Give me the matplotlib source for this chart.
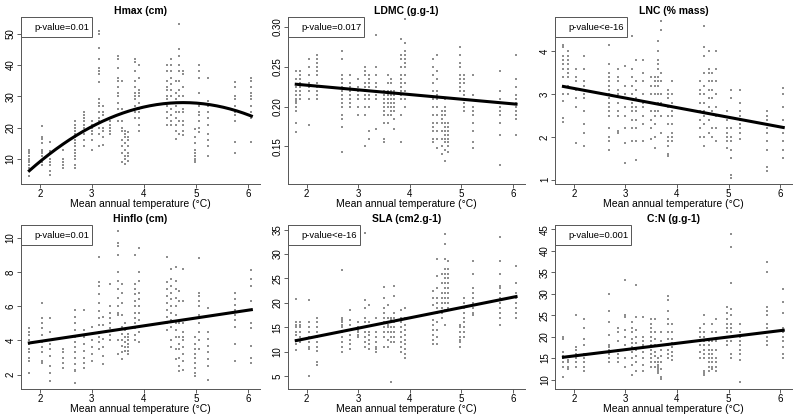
import matplotlib
matplotlib.use("Agg")
import matplotlib.pyplot as plt
import numpy as np
from matplotlib.transforms import offset_copy

plt.rcParams['font.family'] = ['Liberation Sans', 'DejaVu Sans']

# mean annual temperature of each site (deg C)
temp = [1.80, 1.88, 2.05, 2.20, 2.45, 2.68, 2.85, 3.00, 3.13, 3.21, 3.35, 3.50, 3.57,
        3.63, 3.70, 3.83, 3.90, 4.45, 4.52, 4.62, 4.68, 4.75, 4.97, 5.05, 5.22, 5.74, 6.06]

hmax = [
    [4.5, 7, 8, 9, 9.5, 10, 11, 12, 12.5, 13],
    [],
    [8, 9, 11, 12, 12.5, 13, 15, 16.5, 17, 20.5],
    [5, 6, 8, 9, 10, 12, 12.5, 15.5],
    [7, 8, 9, 10, 13],
    [7, 8, 10, 11, 12, 13, 14, 15, 16, 17, 18, 19, 20, 21, 22],
    [14, 16, 18, 19, 20, 21, 22, 23, 24, 25],
    [13, 16, 18, 19, 20, 21, 22],
    [14, 18, 20, 22, 23, 25, 27, 28, 29, 34.5, 37, 38, 39, 42, 45.5, 50, 51],
    [14.5, 17, 19, 20, 22, 24, 25, 27],
    [18, 19, 20, 21, 22, 23],
    [22, 24, 26, 28, 30, 31, 33, 35, 36, 39, 42, 43],
    [9, 12, 14, 16, 19, 20, 22, 26, 35],
    [8.5, 10, 11, 13, 15, 17, 18, 19],
    [9.5, 11, 12, 14, 16, 17, 18.5],
    [23, 25, 27, 29, 30, 31, 33, 35, 38, 41, 42],
    [19, 21, 23, 25, 26, 28, 30, 31, 32, 36, 40],
    [21, 23, 25, 27, 29, 30, 32, 33, 35, 38, 40],
    [21, 22, 24, 26, 28, 30, 32, 34, 36, 38, 40, 42],
    [16.5, 19, 21, 23, 25, 27, 29, 31, 35],
    [18, 22, 25, 28, 30, 32, 35, 38, 40, 43, 45, 53],
    [17.5, 19, 21, 22, 25, 26, 28, 30, 33, 37, 38],
    [9, 9.5, 10, 11, 12, 13, 15, 17, 19.5],
    [18.5, 20, 22, 24, 25, 27, 31, 36, 38, 40],
    [11, 14, 16, 18, 21, 23, 25, 27, 28.5, 36],
    [12, 15.5, 22, 24, 25, 27, 29, 30, 33, 34.5],
    [15.5, 23, 25, 27, 29, 30, 31, 33, 35, 36],
]

ldmc = [
    [0.168, 0.18, 0.195, 0.20, 0.205, 0.207, 0.21, 0.215, 0.22, 0.224, 0.228, 0.235, 0.245],
    [0.21, 0.215, 0.22, 0.225, 0.23, 0.235, 0.24, 0.245],
    [0.177, 0.21, 0.22, 0.225, 0.23, 0.24, 0.25, 0.26],
    [0.21, 0.215, 0.22, 0.225, 0.23, 0.24, 0.245, 0.25, 0.255, 0.26, 0.265, 0.29],
    [],
    [0.143, 0.175, 0.185, 0.19, 0.20, 0.205, 0.21, 0.215, 0.22, 0.225, 0.23, 0.235, 0.24, 0.26, 0.27, 0.287],
    [0.20, 0.205, 0.21, 0.215, 0.22, 0.225, 0.23, 0.24],
    [0.19, 0.20, 0.21, 0.215, 0.22, 0.225, 0.235],
    [0.15, 0.19, 0.20, 0.21, 0.215, 0.22, 0.225, 0.23, 0.24, 0.245, 0.25],
    [0.16, 0.17, 0.20, 0.21, 0.215, 0.22, 0.225, 0.23, 0.235, 0.24],
    [0.172, 0.21, 0.215, 0.22, 0.225, 0.23, 0.24, 0.25, 0.29],
    [0.155, 0.16, 0.18, 0.19, 0.195, 0.20, 0.205, 0.21, 0.215, 0.22],
    [0.18, 0.19, 0.20, 0.205, 0.21, 0.215, 0.22, 0.23, 0.24],
    [0.19, 0.195, 0.20, 0.205, 0.21, 0.215, 0.22, 0.23, 0.235],
    [0.172, 0.185, 0.195, 0.20, 0.205, 0.21, 0.215, 0.22],
    [0.155, 0.19, 0.21, 0.215, 0.22, 0.225, 0.23, 0.235, 0.24, 0.25, 0.26, 0.265, 0.285],
    [0.20, 0.21, 0.22, 0.23, 0.24, 0.25, 0.255, 0.26, 0.265, 0.27, 0.28, 0.31],
    [0.155, 0.16, 0.17, 0.175, 0.18, 0.19, 0.20, 0.21, 0.22, 0.23, 0.24, 0.25, 0.26],
    [0.148, 0.16, 0.17, 0.18, 0.19, 0.20, 0.21, 0.215, 0.22, 0.235, 0.245, 0.265],
    [0.14, 0.15, 0.16, 0.17, 0.18, 0.185, 0.19, 0.195],
    [0.132, 0.145, 0.155, 0.16, 0.165, 0.17, 0.175, 0.18, 0.19, 0.195, 0.20, 0.21],
    [0.143, 0.15, 0.155, 0.16, 0.165, 0.17, 0.175, 0.18],
    [0.22, 0.225, 0.23, 0.235, 0.24, 0.25, 0.255, 0.265, 0.275],
    [0.195, 0.20, 0.205, 0.21, 0.215, 0.22, 0.23, 0.235, 0.24],
    [0.148, 0.155, 0.17, 0.18, 0.19, 0.195, 0.20, 0.215, 0.24],
    [0.127, 0.165, 0.18, 0.19, 0.195, 0.20, 0.21, 0.22, 0.245],
    [0.165, 0.185, 0.19, 0.195, 0.20, 0.205, 0.21, 0.215, 0.225, 0.235, 0.265],
]

lnc = [
    [2.35, 2.45, 2.85, 3.0, 3.2, 3.4, 3.6, 3.7, 3.8, 3.9, 4.1, 4.15],
    [3.0, 3.2, 3.4, 3.5, 3.6, 3.7, 3.8, 3.9, 4.0],
    [1.85, 2.7, 2.9, 3.1, 3.3, 3.4, 3.6],
    [1.8, 2.1, 2.3, 2.6, 2.9, 3.0, 3.1, 3.2, 3.3, 3.6, 3.9],
    [],
    [1.7, 1.9, 2.0, 2.2, 2.5, 2.6, 2.7, 2.8, 2.9, 3.0, 3.1, 3.2, 3.3, 3.4, 3.5, 3.7, 4.15],
    [2.1, 2.15, 2.5, 2.6, 2.8, 3.0, 3.1, 3.3, 3.4, 3.6],
    [1.4, 1.85, 2.2, 2.5, 2.7, 2.9, 3.0, 3.2, 3.65],
    [1.9, 2.2, 2.4, 2.6, 2.7, 2.8, 3.0, 3.2, 3.4, 3.6, 4.35],
    [1.45, 1.9, 2.2, 2.4, 2.6, 2.7, 2.9, 3.1, 3.3, 3.8],
    [1.9, 2.3, 2.5, 2.7, 2.8, 3.0, 3.3, 3.5, 3.8],
    [1.95, 2.2, 2.4, 2.6, 2.8, 3.0, 3.2, 3.4],
    [1.75, 2.0, 2.3, 2.5, 2.6, 3.0, 3.2, 3.3, 3.4],
    [2.6, 2.8, 3.0, 3.2, 3.3, 3.4, 3.6, 3.7, 3.8, 4.0, 4.25],
    [2.1, 2.5, 2.8, 3.0, 3.3, 3.5, 4.5, 4.7],
    [1.55, 1.6, 1.8, 1.9, 2.0, 2.3, 2.5, 2.7, 2.9, 3.0, 3.1],
    [1.9, 2.0, 2.1, 2.3, 2.5, 2.6, 2.8, 3.0, 3.3],
    [2.0, 2.2, 2.4, 2.6, 2.8, 3.0, 3.1, 3.3],
    [1.8, 2.0, 2.3, 2.5, 2.6, 2.8, 3.0, 3.2, 3.5, 3.9, 4.1, 4.6],
    [2.1, 2.4, 2.7, 2.9, 3.1, 3.3, 3.5, 3.6, 4.0],
    [2.0, 2.2, 2.6, 2.9, 3.1, 3.3, 3.5],
    [1.9, 2.2, 2.5, 2.7, 3.0, 3.3, 3.6, 4.0],
    [1.75, 1.9, 2.0, 2.1, 2.2, 2.4, 2.6],
    [1.05, 1.1, 1.5, 1.7, 1.9, 2.0, 2.2, 2.9, 3.1],
    [1.95, 2.1, 2.2, 2.3, 2.4, 2.5, 2.6, 2.8, 3.1],
    [1.2, 1.3, 1.7, 1.9, 2.1, 2.2, 2.3, 2.4, 2.5, 2.6],
    [1.5, 1.7, 1.9, 2.1, 2.4, 2.7, 3.0, 3.15],
]

hinflo = [
    [2.1, 2.8, 3.0, 3.3, 3.5, 3.8, 4.0, 4.3, 4.5, 4.7],
    [],
    [2.7, 2.8, 3.3, 3.6, 3.9, 4.3, 4.7, 5.0, 5.3, 6.2],
    [1.6, 2.1, 2.5, 3.1, 3.5, 3.8, 4.0, 4.5, 5.3],
    [2.4, 2.7, 3.0, 3.3, 3.5],
    [1.5, 2.2, 2.3, 2.6, 3.0, 3.3, 3.6, 3.9, 4.2, 4.6, 5.0, 5.4, 5.8],
    [2.4, 2.7, 3.0, 3.4, 3.8, 4.2, 4.6, 5.8],
    [2.8, 3.2, 3.6, 4.0, 4.4, 4.8],
    [3.5, 3.9, 4.2, 4.5, 4.9, 5.3, 5.7, 6.2, 6.7, 7.2, 7.4, 8.9],
    [2.6, 3.1, 3.6, 4.1, 4.5, 4.9, 5.4],
    [4.0, 4.3, 4.7, 5.0, 5.3, 5.6, 6.0, 7.3],
    [3.2, 4.0, 4.6, 5.5, 5.6, 6.0, 6.5, 7.0, 7.5, 8.0, 9.0, 9.5, 9.7, 10.4],
    [2.9, 3.3, 3.7, 4.0, 4.4, 4.8, 5.5, 6.2, 6.8, 7.3],
    [3.4, 3.6, 3.9, 4.2, 4.6, 5.0],
    [3.2, 3.4, 3.6, 3.8, 4.0, 4.2, 4.4],
    [4.0, 4.3, 4.7, 5.0, 5.3, 5.6, 6.0, 6.3, 6.7, 7.0, 7.3, 9.0],
    [3.9, 4.5, 4.8, 5.2, 5.6, 6.0, 6.4, 6.8, 7.5, 8.0, 9.4],
    [4.6, 5.0, 5.4, 5.8, 6.2, 6.6, 7.0, 7.4, 8.9],
    [3.6, 4.0, 4.8, 5.2, 5.6, 6.0, 6.4, 6.8, 7.2, 7.6, 8.2],
    [2.9, 3.5, 4.2, 4.6, 5.0, 5.5, 6.0, 6.5, 7.0, 7.5, 8.3],
    [2.2, 2.5, 3.0, 3.5, 3.8, 4.2, 5.0, 6.3, 6.9],
    [2.3, 2.8, 3.2, 3.6, 4.0, 4.2, 4.5, 5.0, 6.3, 8.2],
    [1.9, 2.1, 2.4, 2.7, 3.0, 3.2, 3.5, 3.8, 4.2],
    [3.5, 4.0, 4.5, 5.0, 5.5, 6.0, 6.3, 6.6, 6.8, 8.8],
    [1.7, 2.5, 2.9, 3.3, 3.7, 4.1, 4.5, 5.9],
    [2.8, 3.8, 4.8, 5.2, 5.5, 5.8, 6.1, 6.4, 6.8],
    [2.7, 3.0, 3.7, 4.7, 5.0, 6.3, 7.2, 7.6, 8.1],
]

sla = [
    [10.3, 11.5, 12.5, 13.5, 14, 15, 15.5, 16, 20.7],
    [12, 13, 14, 15, 15.5, 16],
    [5, 10.5, 11, 12, 13, 14, 15, 16, 20.5],
    [7.3, 8, 10.2, 11, 12, 13, 14, 15, 16, 17],
    [],
    [10, 11, 12, 13, 14, 15, 15.5, 16, 16.5, 17, 26.8],
    [10.5, 11.5, 12.5, 13.5, 14.5, 15.5, 16.5, 18.5],
    [13, 13.5, 14, 14.5, 15, 16],
    [11, 12, 13, 14, 15, 16, 17, 19, 20.5, 34.2],
    [10.5, 11.5, 12.5, 13.5, 14, 16, 19.5],
    [10, 10.5, 11, 12, 13, 14, 17],
    [11, 13, 14, 15, 16, 17, 18, 19, 21, 23.3],
    [11, 12.5, 14, 15, 15.5, 16, 17, 19.5],
    [3.8, 12, 13, 14, 15, 16, 16.5, 17],
    [12, 13, 14, 15, 16, 17, 18, 21.5, 23.5],
    [10, 11, 12, 13, 14, 15, 16, 17, 18.5],
    [8.8, 9.5, 10.5, 11.5, 12.5, 13.5, 14.5, 15.5, 17, 19],
    [11.5, 12.5, 13.5, 14.5, 15.5, 16.5, 18, 19.5, 21, 22.5],
    [11.5, 13, 14.5, 16, 18, 19, 20, 21, 23, 25.5, 29],
    [17, 18, 19, 20, 21, 22, 24, 26],
    [15.5, 18.5, 20, 21, 22, 23, 24, 25, 26, 27, 29, 32, 34],
    [19, 20, 21, 22, 23, 24, 25, 26, 27, 28.5],
    [11, 12, 12.5, 13, 14, 15, 15.5],
    [13, 14, 15, 16, 17, 18, 19, 20, 21],
    [17.5, 18, 19, 20, 21, 22, 23, 26, 28.5],
    [15.5, 17, 18, 19, 20, 21, 22, 23, 23.5, 26, 28.5, 33.5],
    [17, 18, 19, 20, 21, 22, 24, 27.5],
]

cn = [
    [10.5, 13, 14, 15, 15.5, 16.5, 19.5, 20],
    [12.5, 13, 14, 14.5],
    [13, 14, 15, 16, 17, 17.5, 25],
    [12, 13, 14, 15, 16, 18, 19.5, 22, 24],
    [],
    [14, 15, 16, 16.5, 17, 17.5, 18, 20.5, 23.5, 26, 30],
    [14, 15, 16, 17, 19, 21, 22],
    [13, 15, 17, 18, 20, 21.5, 24.5, 25, 33.3],
    [11, 13.5, 15, 16.5, 17.5, 18.5, 19.5, 21, 22, 23.5],
    [12, 14, 15.5, 17, 18.5, 20, 21.5, 24.5, 32],
    [12, 13.5, 15, 16.5, 18, 19, 20, 24.5],
    [13, 14, 15, 16, 17, 18, 19, 20, 21, 22, 23, 24],
    [13, 14, 15.5, 16.5, 18, 19.5, 21, 24],
    [11.5, 12, 12.5, 13, 13.5, 14, 15],
    [10.2, 10.5, 12.5, 14, 15.5, 17, 19, 21],
    [15, 16, 17, 18, 19.5, 21, 23, 24, 26, 28.5, 29.5],
    [14.5, 15.5, 16.5, 17.5, 18.5, 19.5, 21, 23],
    [15, 16.5, 18, 19, 20, 21, 22],
    [11, 11.5, 12, 15, 16, 17, 18, 19, 20, 21, 23, 25],
    [12, 13, 14, 15, 16, 17, 18, 19],
    [12.5, 13, 14, 15, 16, 17, 19, 21, 23],
    [12, 13, 14, 15, 17, 19, 21, 24],
    [18, 19, 20, 21, 22, 23, 24, 25.5, 27],
    [15, 16, 19, 21, 22, 23, 25, 26.5, 32.5, 41, 44],
    [9.5, 14.5, 16, 17, 18, 19, 20, 21, 23],
    [18, 19, 20, 21, 22, 23, 25, 26, 27, 35, 37.5],
    [15, 16, 17.5, 19, 20, 21, 22, 25.5, 28, 31],
]

titles = ["Hmax (cm)", "LDMC (g.g-1)", "LNC (% mass)",
          "Hinflo (cm)", "SLA (cm2.g-1)", "C:N (g.g-1)"]
pvalues = ["p-value=0.01", "p-value=0.017", "p-value<e-16",
           "p-value=0.01", "p-value<e-16", "p-value=0.001"]
# fitted model coefficients (highest power first), as drawn on the figure
fits = [
    [-2.5, 23.75, -28.4],
    [-0.00585, 0.2385],
    [-0.225, 3.585],
    [0.457, 3.03],
    [2.11, 8.5],
    [1.475, 12.55],
]
ylims = [(2.0, 55.3), (0.103, 0.312), (0.9, 4.8), (1.16, 10.75), (2.4, 35.9), (7.8, 46.0)]
yticks = [[10, 20, 30, 40, 50], [0.15, 0.20, 0.25, 0.30], [1, 2, 3, 4],
          [2, 4, 6, 8, 10], [5, 10, 15, 20, 25, 30, 35], [10, 15, 20, 25, 30, 35, 40, 45]]
yfmt = ["{:g}", "{:.2f}", "{:g}", "{:g}", "{:g}", "{:g}"]
series = [hmax, ldmc, lnc, hinflo, sla, cn]

fig = plt.figure(figsize=(8, 4.16), dpi=100)
lefts = [0.02625, 0.36, 0.694]
widths = [0.299, 0.296, 0.296]
bottoms = [0.5577, 0.0649]
heights = [0.401, 0.394]

axes = []
labels = []
for i, vals in enumerate(series):
    r, c = divmod(i, 3)
    ax = fig.add_axes([lefts[c], bottoms[r], widths[c], heights[r]])
    xs = np.concatenate([[t] * len(v) for t, v in zip(temp, vals)])
    ys = np.concatenate([v for v in vals])
    ax.scatter(xs, ys, s=3, marker='s', color='#8f8f8f', linewidths=0, zorder=2)

    xl = np.linspace(min(temp), max(temp), 200)
    ax.plot(xl, np.polyval(fits[i], xl), color='black', lw=2.2, zorder=3)

    ax.set_xlim(1.64, 6.23)
    ax.set_ylim(*ylims[i])
    ax.set_xticks([2, 3, 4, 5, 6])
    ax.set_yticks(yticks[i])
    ax.set_yticklabels([yfmt[i].format(v) for v in yticks[i]], rotation=90, va='center')
    ax.tick_params(labelsize=7, length=3, width=0.6, pad=0.8, color='#444444')
    for side in ['top', 'right']:
        ax.spines[side].set_visible(False)
    for side in ['left', 'bottom']:
        ax.spines[side].set_linewidth(0.7)
        ax.spines[side].set_color('#555555')
    ax.set_title(titles[i], fontsize=7.5, fontweight='bold', pad=2.5)
    ax.set_xlabel("Mean annual temperature (°C)", fontsize=7.5, labelpad=-0.5)

    # p-value text, placed 13 px right of the y axis, 10 px below the top
    tr = offset_copy(ax.transAxes, fig=fig, x=13, y=-10, units='dots')
    t = ax.text(0, 1, pvalues[i], transform=tr, fontsize=6.8,
                ha='left', va='center', zorder=5)
    axes.append(ax)
    labels.append(t)

# legend-like box sized to the text
fig.canvas.draw()
renderer = fig.canvas.get_renderer()
for ax, t in zip(axes, labels):
    bb = t.get_window_extent(renderer)
    x0, y1 = ax.transAxes.transform((0, 1))
    x1 = bb.x1 + 3
    y0 = y1 - 20
    inv = ax.transAxes.inverted()
    (ax0, ay0), (ax1, ay1) = inv.transform([(x0, y0), (x1, y1)])
    ax.add_patch(plt.Rectangle((ax0, ay0), ax1 - ax0, ay1 - ay0, transform=ax.transAxes,
                               facecolor='white', edgecolor='#555555',
                               lw=0.7, zorder=4, clip_on=False))

fig.savefig("out.png", dpi=100)
